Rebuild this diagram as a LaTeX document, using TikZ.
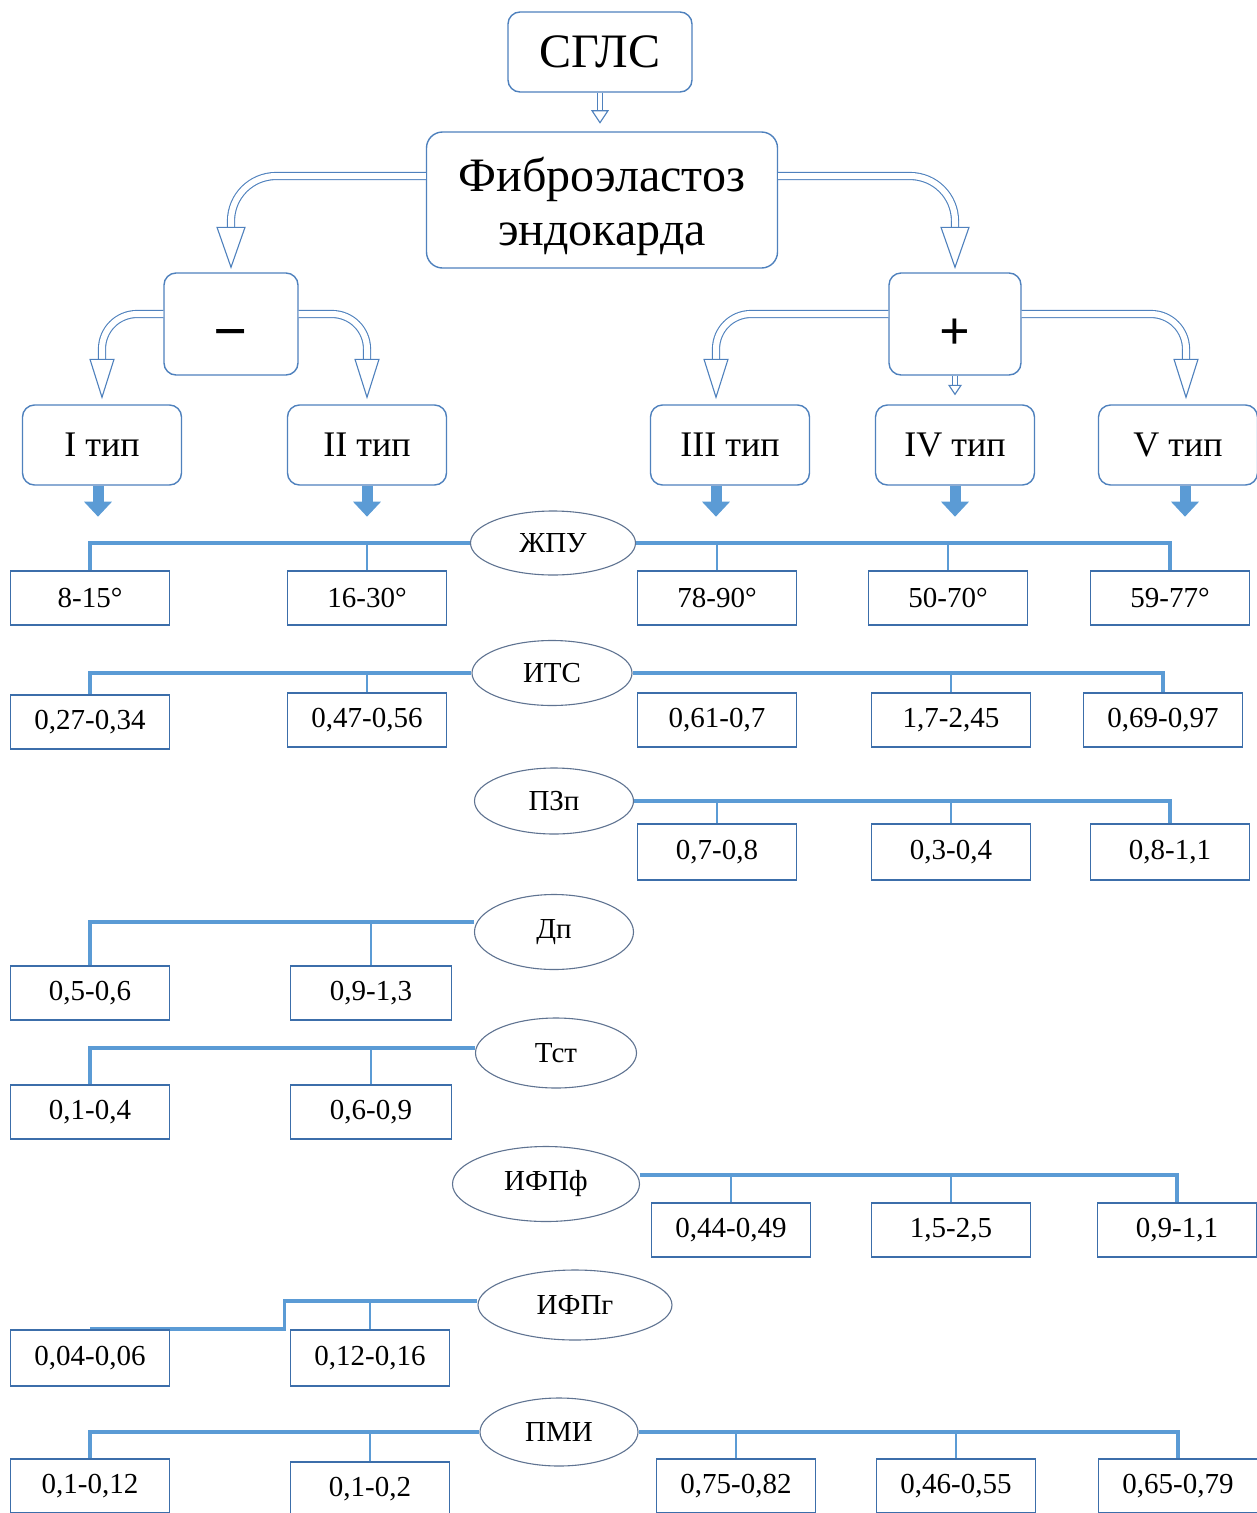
\documentclass[tikz,border=0pt]{standalone}
\usepackage{fontspec}
\setmainfont{Liberation Serif}
\usetikzlibrary{arrows.meta,shapes.geometric,backgrounds}
\definecolor{linkblue}{RGB}{91,155,213}
\definecolor{boxline}{RGB}{60,110,170}
\definecolor{roundline}{RGB}{79,129,189}
\definecolor{ovalline}{RGB}{95,115,145}
\tikzset{
  rbox/.style={draw=roundline,line width=1.4pt,rounded corners=12pt,fill=white,inner sep=0pt,align=center},
  typebox/.style={rbox,minimum width=159pt,minimum height=80pt,font=\fontsize{36}{40}\selectfont},
  signbox/.style={rbox,minimum height=102pt,text depth=0pt},
  valbox/.style={draw=boxline,line width=1.8pt,fill=white,minimum width=159pt,minimum height=54pt,inner sep=0pt,font=\fontsize{29}{32}\selectfont},
  oval/.style={ellipse,draw=ovalline,line width=1.1pt,fill=white,inner sep=0pt,font=\fontsize{29}{32}\selectfont},
  bar/.style={draw=linkblue,line width=3.5pt},
  drop/.style={draw=linkblue,line width=2pt},
  hollow/.style={draw=roundline,line width=1.1pt,double=white,double distance=6pt},
  thinhollow/.style={draw=roundline,line width=0.9pt,double=white,double distance=4pt},
  headfill/.style={draw=roundline,line width=1.1pt,fill=white,line join=miter},
  solidarr/.style={draw=linkblue,line width=11pt,-{Triangle[width=27pt,length=15pt]}},
}
\newcommand\hollowhead[3]{\filldraw[headfill] (#1) -- ++(-#2,-#3) -- ++(2*#2,0) -- cycle;}
\begin{document}
\begin{tikzpicture}[x=1pt,y=-1pt]
\useasboundingbox (0,0) rectangle (1257,1513);
%% top part
\node (sglc) at (600,52) [rbox,minimum width=184pt,minimum height=80pt,font=\fontsize{48}{50}\selectfont] {СГЛС};
\node (fib) at (602,200) [rbox,minimum width=351pt,minimum height=136pt,rounded corners=16pt,text height=90pt,text depth=0pt,font=\fontsize{48}{54}\selectfont] {Фиброэластоз\\эндокарда};
\node (minus) at (231,324) [signbox,minimum width=134pt,text height=54pt,font=\fontsize{60}{62}\selectfont\bfseries] {−};
\node (plus) at (955,324) [signbox,minimum width=132pt,text height=50pt,font=\fontsize{54}{56}\selectfont\bfseries] {+};
\node (t1) at (102,445) [typebox] {I тип};
\node (t2) at (367,445) [typebox] {II тип};
\node (t3) at (730,445) [typebox] {III тип};
\node (t4) at (955,445) [typebox] {IV тип};
\node (t5) at (1178,445) [typebox] {V тип};
%
\draw[thinhollow] (sglc.south) -- ([yshift=-18pt]sglc.south);
\hollowhead{[yshift=-30pt]sglc.south}{8}{12}
\draw[hollow,rounded corners=45pt] ([yshift=24pt]fib.west) -| ([yshift=45pt]minus.north);
\hollowhead{[yshift=5pt]minus.north}{14}{40}
\draw[hollow,rounded corners=45pt] ([yshift=24pt]fib.east) -| ([yshift=45pt]plus.north);
\hollowhead{[yshift=5pt]plus.north}{14}{40}
\draw[hollow,rounded corners=35pt] ([yshift=10pt]minus.west) -| ([yshift=45pt]t1.north);
\hollowhead{[yshift=7pt]t1.north}{12}{38}
\draw[hollow,rounded corners=35pt] ([yshift=10pt]minus.east) -| ([yshift=45pt]t2.north);
\hollowhead{[yshift=7pt]t2.north}{12}{38}
\draw[hollow,rounded corners=35pt] ([yshift=10pt]plus.west) -| ([xshift=-14pt,yshift=45pt]t3.north);
\hollowhead{[xshift=-14pt,yshift=7pt]t3.north}{12}{38}
\draw[hollow,rounded corners=35pt] ([yshift=10pt]plus.east) -| ([xshift=8pt,yshift=45pt]t5.north);
\hollowhead{[xshift=8pt,yshift=7pt]t5.north}{12}{38}
\draw[thinhollow] (plus.south) -- ([yshift=19pt]t4.north);
\hollowhead{[yshift=10pt]t4.north}{6}{9}
%
\draw[solidarr] ([xshift=-4pt]t1.south) -- ++(0,31);
\draw[solidarr] (t2.south) -- ++(0,31);
\draw[solidarr] ([xshift=-14pt]t3.south) -- ++(0,31);
\draw[solidarr] (t4.south) -- ++(0,31);
\draw[solidarr] ([xshift=7pt]t5.south) -- ++(0,31);
%% parameters
\node (jpu) at (553,543) [oval,minimum width=165pt,minimum height=64pt] {ЖПУ};
\node (jpu1) at (90,598) [valbox] {8-15°};
\node (jpu2) at (367,598) [valbox] {16-30°};
\node (jpu3) at (717,598) [valbox] {78-90°};
\node (jpu4) at (948,598) [valbox] {50-70°};
\node (jpu5) at (1170,598) [valbox] {59-77°};
%
\node (its) at (552,673) [oval,minimum width=160pt,minimum height=65pt] {ИТС};
\node (its1) at (90,722) [valbox] {0,27-0,34};
\node (its2) at (367,720) [valbox] {0,47-0,56};
\node (its3) at (717,720) [valbox] {0,61-0,7};
\node (its4) at (951,720) [valbox] {1,7-2,45};
\node (its5) at (1163,720) [valbox] {0,69-0,97};
%
\node (pzp) at (554,801) [oval,minimum width=159pt,minimum height=66pt] {ПЗп};
\node (pzp1) at (717,852) [valbox,minimum height=56pt] {0,7-0,8};
\node (pzp2) at (951,852) [valbox,minimum height=56pt] {0,3-0,4};
\node (pzp3) at (1170,852) [valbox,minimum height=56pt] {0,8-1,1};
%
\node (dp) at (554,932) [oval,minimum width=159pt,minimum height=75pt] {Дп};
\node (dp1) at (90,993) [valbox] {0,5-0,6};
\node (dp2) at (371,993) [valbox,minimum width=161pt] {0,9-1,3};
%
\node (tst) at (556,1053) [oval,minimum width=161pt,minimum height=70pt] {Тст};
\node (tst1) at (90,1112) [valbox] {0,1-0,4};
\node (tst2) at (371,1112) [valbox,minimum width=161pt] {0,6-0,9};
%
\node (ifpf) at (546,1184) [oval,minimum width=187pt,minimum height=75pt] {ИФПф};
\node (ifpf1) at (731,1230) [valbox] {0,44-0,49};
\node (ifpf2) at (951,1230) [valbox] {1,5-2,5};
\node (ifpf3) at (1177,1230) [valbox] {0,9-1,1};
%
\node (ifpg) at (575,1305) [oval,minimum width=194pt,minimum height=70pt] {ИФПг};
\node (ifpg1) at (90,1358) [valbox,minimum height=56pt] {0,04-0,06};
\node (ifpg2) at (370,1358) [valbox,minimum height=56pt] {0,12-0,16};
%
\node (pmi) at (559,1432) [oval,minimum width=158pt,minimum height=68pt] {ПМИ};
\node (pmi1) at (90,1486) [valbox] {0,1-0,12};
\node (pmi2) at (370,1489) [valbox] {0,1-0,2};
\node (pmi3) at (736,1486) [valbox] {0,75-0,82};
\node (pmi4) at (956,1486) [valbox] {0,46-0,55};
\node (pmi5) at (1178,1486) [valbox] {0,65-0,79};
%% links
\begin{scope}[on background layer]
\draw[bar] (jpu.west) -| (jpu1.north);
\draw[drop] (jpu2.north) -- (jpu2.north |- jpu.west);
\draw[bar] (jpu.east) -| (jpu5.north);
\draw[drop] (jpu3.north) -- (jpu3.north |- jpu.east);
\draw[drop] (jpu4.north) -- (jpu4.north |- jpu.east);
\draw[bar] (its.west) -| (its1.north);
\draw[drop] (its2.north) -- (its2.north |- its.west);
\draw[bar] (its.east) -| (its5.north);
\draw[drop] (its4.north) -- (its4.north |- its.east);
\draw[bar] (pzp.east) -| (pzp3.north);
\draw[drop] (pzp1.north) -- (pzp1.north |- pzp.east);
\draw[drop] (pzp2.north) -- (pzp2.north |- pzp.east);
\coordinate (dpl) at ([yshift=10pt]dp.west);
\draw[bar] (dpl) -| (dp1.north);
\draw[drop] (dp2.north) -- (dp2.north |- dpl);
\coordinate (tstl) at ([yshift=5pt]tst.west);
\draw[bar] (tstl) -| (tst1.north);
\draw[drop] (tst2.north) -- (tst2.north |- tstl);
\coordinate (ifpfr) at ([yshift=9pt]ifpf.east);
\draw[bar] (ifpfr) -| (ifpf3.north);
\draw[drop] (ifpf1.north) -- (ifpf1.north |- ifpfr);
\draw[drop] (ifpf2.north) -- (ifpf2.north |- ifpfr);
\coordinate (ifpgl) at ([yshift=4pt]ifpg.west);
\draw[bar] (ifpgl) -- ++(-193,0) |- (ifpg1.north);
\draw[drop] (ifpg2.north) -- (ifpg2.north |- ifpgl);
\draw[bar] (pmi.west) -| (pmi1.north);
\draw[drop] (pmi2.north) -- (pmi2.north |- pmi.west);
\draw[bar] (pmi.east) -| (pmi5.north);
\draw[drop] (pmi3.north) -- (pmi3.north |- pmi.east);
\draw[drop] (pmi4.north) -- (pmi4.north |- pmi.east);
\end{scope}
\end{tikzpicture}
\end{document}
